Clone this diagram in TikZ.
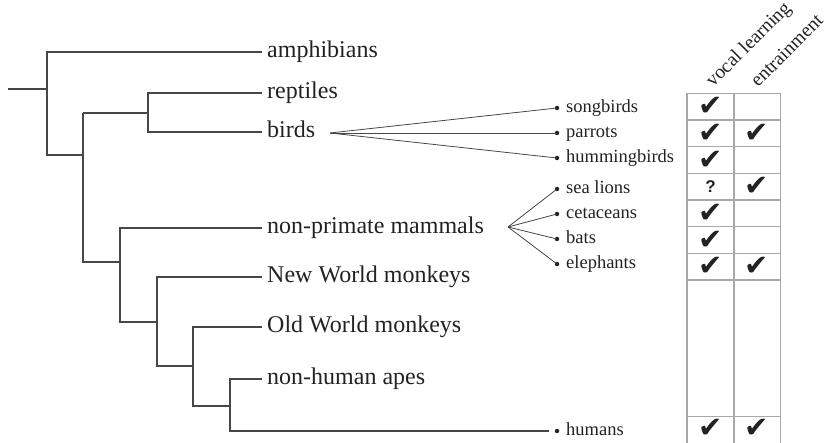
\documentclass[tikz,border=0pt]{standalone}
\usepackage{fontspec}
\setmainfont{Liberation Serif}
\newfontfamily\symfont{DejaVu Sans}
\newfontfamily\qfont{Liberation Sans}
\definecolor{treec}{HTML}{474747}
\definecolor{gridc}{HTML}{A8A8A8}
\definecolor{txtc}{HTML}{222222}
\begin{document}
\begin{tikzpicture}[x=1pt,y=-1pt,
  tree/.style={draw=treec,line width=1.6pt},
  fan/.style={draw=treec,line width=0.8pt},
  grid/.style={draw=gridc,line width=1.4pt},
  big/.style={anchor=base west,inner xsep=5pt,inner ysep=0pt,text=txtc,font=\fontsize{24}{26}\selectfont},
  small/.style={anchor=base west,inner xsep=0pt,inner ysep=0pt,text=txtc,font=\fontsize{18.5}{20}\selectfont},
  dotn/.style={circle,fill=txtc,inner sep=0pt,minimum size=4.5pt},
  chk/.style={text=txtc,inner sep=0pt,font=\symfont\fontsize{29}{29}\selectfont},
  hdr/.style={anchor=base west,rotate=45,inner sep=0pt,text=txtc,font=\fontsize{19.5}{20}\selectfont}]
\useasboundingbox (0,0) rectangle (826,443);

% tree junctions and branch ends
\coordinate (stem) at (8,89);
\coordinate (j0) at (47,89);
\coordinate (j1) at (83,155);
\coordinate (j2) at (148,113);
\coordinate (j3) at (120,262);
\coordinate (j4) at (157,322);
\coordinate (j5) at (193,366);
\coordinate (j6) at (230,406);
\coordinate (eamph) at (262,52);
\coordinate (erept) at (262,93);
\coordinate (ebird) at (262,132);
\coordinate (enpm) at (262,228);
\coordinate (enwm) at (262,277);
\coordinate (eowm) at (262,327);
\coordinate (enha) at (262,379);

% labels
\node[big] (amph) at ([yshift=-5.5pt]eamph) {amphibians};
\node[big] (rept) at ([yshift=-5.5pt]erept) {reptiles};
\node[big] (bird) at ([yshift=-5.5pt]ebird) {birds};
\node[big] (npm) at ([yshift=-5.5pt]enpm) {non-primate mammals};
\node[big] (nwm) at ([yshift=-5.5pt]enwm) {New World monkeys};
\node[big] (owm) at ([yshift=-5.5pt]eowm) {Old World monkeys};
\node[big] (nha) at ([yshift=-5.5pt]enha) {non-human apes};

% dots and small labels
\foreach \n/\y/\t in {song/108/songbirds, parr/133/parrots, humm/158/hummingbirds,
  seal/189/sea lions, ceta/214/cetaceans, bats/239/bats, elep/264/elephants, huma/431/humans}{
  \node[dotn] (d\n) at (557,\y) {};
  \node[small] (l\n) at (566,\y+4.3) {\t};
}

% tree
\draw[tree] (stem) -- (j0);
\draw[tree] (eamph) -| (j0 |- j1) -- (j1);
\draw[tree] (j1 |- j2) -- (j2);
\draw[tree] (j1 |- j2) -- (j1 |- j3) -- (j3);
\draw[tree] (erept) -| (j2 |- ebird) -- (ebird);
\draw[tree] (enpm) -| (j3 |- j4) -- (j4);
\draw[tree] (enwm) -| (j4 |- j5) -- (j5);
\draw[tree] (eowm) -| (j5 |- j6) -- (j6);
\draw[tree] (enha) -| (j6 |- dhuma) -- ([xshift=-8pt]dhuma.center);

% fans
\coordinate (fb) at (330,133);
\coordinate (fm) at (508,227);
\foreach \n in {song,parr,humm} \draw[fan] (fb) -- (d\n.center);
\foreach \n in {seal,ceta,bats,elep} \draw[fan] (fm) -- (d\n.center);

% table
\coordinate (tl) at (687,93.3);
\coordinate (tm) at (734,93.3);
\coordinate (tr) at (780.5,93.3);
\draw[grid] (687,443) -- (tl) -- (tr) -- (780.5,443);
\draw[grid] (tm) -- (734,443);
\foreach \y in {120,146.7,173.3,200,226.7,253.3,280,416.7}
  \draw[grid] (687,\y) -- (780.5,\y);

% headers
\node[hdr] (hv) at (713,88) {vocal learning};
\node[hdr] (he) at (758,88) {entrainment};

% checks
\foreach \y/\nm in {106.7/a,133.3/b,160/c,213.3/e,240/f,266.7/g,428/h}
  \node[chk] (cv\nm) at (711,\y) {✔};
\foreach \y/\nm in {133.3/b,186.7/d,266.7/g,428/h}
  \node[chk] (ce\nm) at (757,\y) {✔};
\node[text=txtc,inner sep=0pt,font=\qfont\bfseries\fontsize{17}{17}\selectfont] (qm) at (710.5,187) {?};
\end{tikzpicture}
\end{document}
